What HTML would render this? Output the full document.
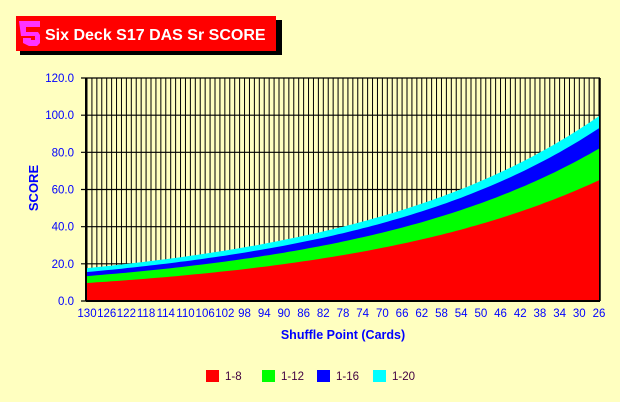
<!DOCTYPE html>
<html><head><meta charset="utf-8"><style>
html,body{margin:0;padding:0;background:#ffffc0;}
svg{display:block;font-family:"Liberation Sans",Arial,sans-serif;}
</style></head><body>
<svg id="s" width="620" height="402" xmlns="http://www.w3.org/2000/svg">
<rect x="0" y="0" width="620" height="402" fill="#ffffc0"/>
<rect x="20" y="20" width="262" height="35" fill="#000"/>
<rect x="16" y="16" width="260" height="35" fill="#ff0000"/>
<path d="M19,21 h21 v6 h-14 v5 h12 l2,3 v8 l-3,3 h-8 l-6,-3 v-5 h8 v2 h4 v-4 h-14 z" fill="#ff33ff"/>
<text x="45" y="40" font-size="16" font-weight="bold" fill="#fff">Six Deck S17 DAS Sr SCORE</text>
<g id="g"></g>
<text transform="translate(38,188) rotate(-90)" text-anchor="middle" font-size="13" font-weight="bold" fill="#0000ff">SCORE</text>
<text x="343" y="339" text-anchor="middle" font-size="12.5" font-weight="bold" fill="#0000ff">Shuffle Point (Cards)</text>
<rect x="206" y="370" width="13" height="12" fill="#ff0000"/><text x="225" y="380" font-size="11.5" fill="#400040">1-8</text>
<rect x="262" y="370" width="13" height="12" fill="#00ff00"/><text x="281" y="380" font-size="11.5" fill="#400040">1-12</text>
<rect x="317" y="370" width="13" height="12" fill="#0000ff"/><text x="336" y="380" font-size="11.5" fill="#400040">1-16</text>
<rect x="373" y="370" width="13" height="12" fill="#00ffff"/><text x="392" y="380" font-size="11.5" fill="#400040">1-20</text>
</svg>
<script>
var g=document.getElementById('g'),h='';
var X0=86,X1=600,Y0=301,Y1=78;
function y(v){return Y0-(v/120)*(Y0-Y1);}
function px(c){return 87+(130-c)*512/104;}
for(var c=130;c>=26;c--){var x=px(c);h+='<line x1="'+x+'" y1="'+Y1+'" x2="'+x+'" y2="'+Y0+'" stroke="#000" stroke-width="1"/>';}
for(var v=0;v<=120;v+=20){h+='<line x1="'+(X0-5)+'" y1="'+y(v)+'" x2="'+X1+'" y2="'+y(v)+'" stroke="#000" stroke-width="1.2"/>';
h+='<text x="'+(X0-12)+'" y="'+(y(v)+4)+'" text-anchor="end" font-size="11.5" fill="#0000ff">'+v.toFixed(1)+'</text>';}
function q(a,b,c,t){var A=2*a-4*b+2*c,B=-3*a+4*b-c;return Math.exp(A*t*t+B*t+a);}
var S=[[9.7,24.7,65,'#ff0000'],[13.4,32,82,'#00ff00'],[15.6,36.5,93,'#0000ff'],[17.7,40,99.5,'#00ffff']];
var areas='';
for(var i=S.length-1;i>=0;i--){var s=S[i],p='';
 for(var c=130;c>=26;c--){var t=(130-c)/104;var v=q(Math.log(s[0]),Math.log(s[1]),Math.log(s[2]),t);p+=px(c).toFixed(1)+','+y(v).toFixed(1)+' ';}
 p+=px(26)+','+Y0+' '+px(130)+','+Y0;
 areas+='<polygon points="'+p+'" fill="'+s[3]+'"/>';}
h+=areas;
h+='<line x1="'+X0+'" y1="'+Y1+'" x2="'+X0+'" y2="'+Y0+'" stroke="#000" stroke-width="2"/>';
h+='<line x1="'+X1+'" y1="'+Y1+'" x2="'+X1+'" y2="'+Y0+'" stroke="#000" stroke-width="1.5"/>';
h+='<line x1="'+X0+'" y1="'+Y0+'" x2="'+X1+'" y2="'+Y0+'" stroke="#000" stroke-width="2"/>';
for(var c=130;c>=26;c-=4){h+='<text x="'+px(c)+'" y="317" text-anchor="middle" font-size="11.5" fill="#0000ff">'+c+'</text>';}
g.innerHTML=h;
</script>
</body></html>
